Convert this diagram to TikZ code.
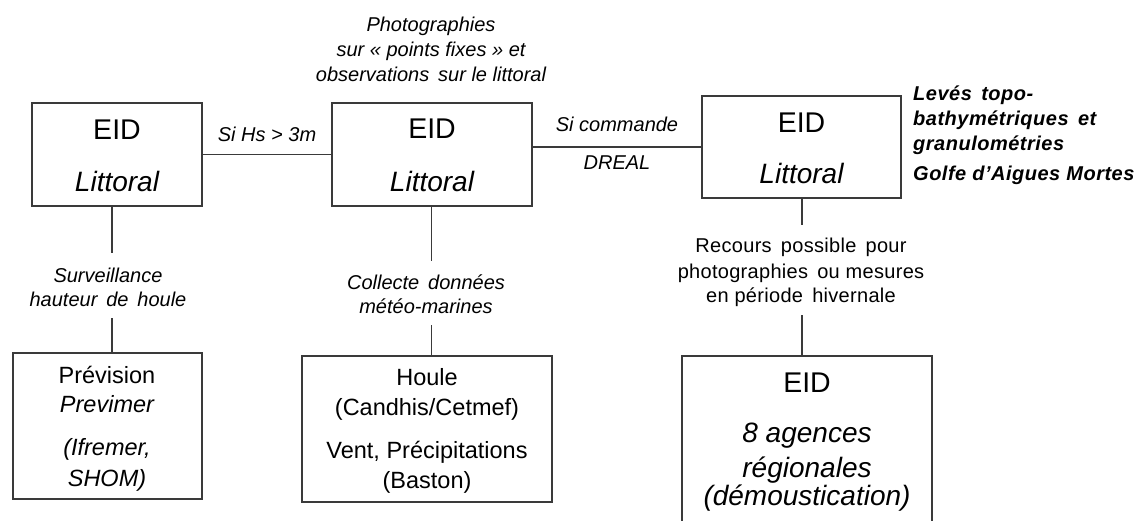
\documentclass[tikz,border=0pt]{standalone}
\usepackage{fontspec}
\setmainfont{Liberation Sans}
\definecolor{linec}{HTML}{3A3A3A}
\begin{document}
\begin{tikzpicture}[x=1pt,y=-1pt,
  box/.style={draw=linec, line width=1.3pt, inner sep=0pt},
  conn/.style={draw=linec, line width=1.3pt},
  txt/.style={anchor=base, inner sep=0pt, text=black},
  big/.style={txt, font=\fontsize{28.5}{34}\selectfont},
  bigit/.style={txt, font=\fontsize{28}{34}\selectfont\itshape},
  mid/.style={txt, font=\fontsize{23.5}{28}\selectfont},
  midit/.style={txt, font=\fontsize{23.5}{28}\selectfont\itshape},
  lab/.style={txt, font=\fontsize{20}{24}\selectfont\itshape},
  labup/.style={txt, font=\fontsize{20}{24}\selectfont\addfontfeature{LetterSpace=1.5}},
  side/.style={anchor=base west, inner sep=0pt, font=\fontsize{20}{24}\selectfont\bfseries\itshape\addfontfeature{LetterSpace=2.5}}]
\useasboundingbox (0,0) rectangle (1137,521);
\fill[white] (0,0) rectangle (1137,521);

% boxes
\node[box, minimum width=170pt, minimum height=103pt] (A) at (117,154.5) {};
\node[box, minimum width=200pt, minimum height=103pt] (B) at (432,154.5) {};
\node[box, minimum width=199pt, minimum height=102pt] (C) at (801.5,147) {};
\node[box, minimum width=189pt, minimum height=146pt] (D) at (107.5,426) {};
\node[box, minimum width=250pt, minimum height=146pt] (E) at (427,429) {};
\node[box, minimum width=250pt, minimum height=184pt] (F) at (807,448) {};

% box texts
\node[big]   (a1) at (117,140) {EID};
\node[bigit] (a2) at (117,192) {Littoral};
\node[big]   (b1) at (432,139) {EID};
\node[bigit] (b2) at (432,192) {Littoral};
\node[big]   (c1) at (801.5,133) {EID};
\node[bigit] (c2) at (801.5,184) {Littoral};

\node[mid]   (d1) at (107,383) {Prévision};
\node[midit] (d2) at (107,412) {Previmer};
\node[midit] (d3) at (107,455) {(Ifremer,};
\node[midit] (d4) at (107,486) {SHOM)};

\node[mid] (e1) at (427,385) {Houle};
\node[mid] (e2) at (427,415) {(Candhis/Cetmef)};
\node[mid] (e3) at (427,458) {Vent, Précipitations};
\node[mid] (e4) at (427,488) {(Baston)};

\node[big]   (f1) at (807,392) {EID};
\node[bigit] (f2) at (807,442) {8 agences};
\node[bigit] (f3) at (807,477) {régionales};
\node[bigit] (f4) at (807,505) {(démoustication)};

% horizontal connectors and labels
\draw[conn] (A.east) -- (B.west);
\draw[conn] (B.east |- C.west) -- (C.west);
\node[lab] (sh) at (267,142) {Si Hs > 3m};
\node[lab] (sc) at (617,132) {Si commande};
\node[lab] (dr) at (617,170) {DREAL};

% top label
\node[lab] (p1) at (431,32) {Photographies};
\node[lab] (p2) at (431,57) {sur « points fixes » et};
\node[lab] (p3) at (431,82) {observations\, sur le littoral};

% vertical connectors
\coordinate (ua) at (112,253);
\coordinate (la) at (112,318);
\draw[conn] (ua |- A.south) -- (ua);
\draw[conn] (la) -- (la |- D.north);
\node[lab] (s1) at (108,282) {Surveillance};
\node[lab] (s2) at (108,306) {hauteur\, de\, houle};

\coordinate (ub) at (431.7,261);
\coordinate (lb) at (431.7,325);
\draw[conn] (ub |- B.south) -- (ub);
\draw[conn] (lb) -- (lb |- E.north);
\node[lab] (m1) at (426,289) {Collecte\, données};
\node[lab] (m2) at (426,313) {météo-marines};

\coordinate (uc) at (802,225);
\coordinate (lc) at (802,315);
\draw[conn] (uc |- C.south) -- (uc);
\draw[conn] (lc) -- (lc |- F.north);
\node[labup] (r1) at (801,253) {Recours\, possible\, pour};
\node[labup] (r2) at (801,278) {photographies\, ou mesures};
\node[labup] (r3) at (801,302) {en période\, hivernale};

% side label
\node[side] (g1) at (913,101) {Levés\, topo-};
\node[side] (g2) at (913,126) {bathymétriques\, et};
\node[side] (g3) at (913,151) {granulométries};
\node[side] (g4) at (913,181) {Golfe d’Aigues Mortes};
\end{tikzpicture}
\end{document}
